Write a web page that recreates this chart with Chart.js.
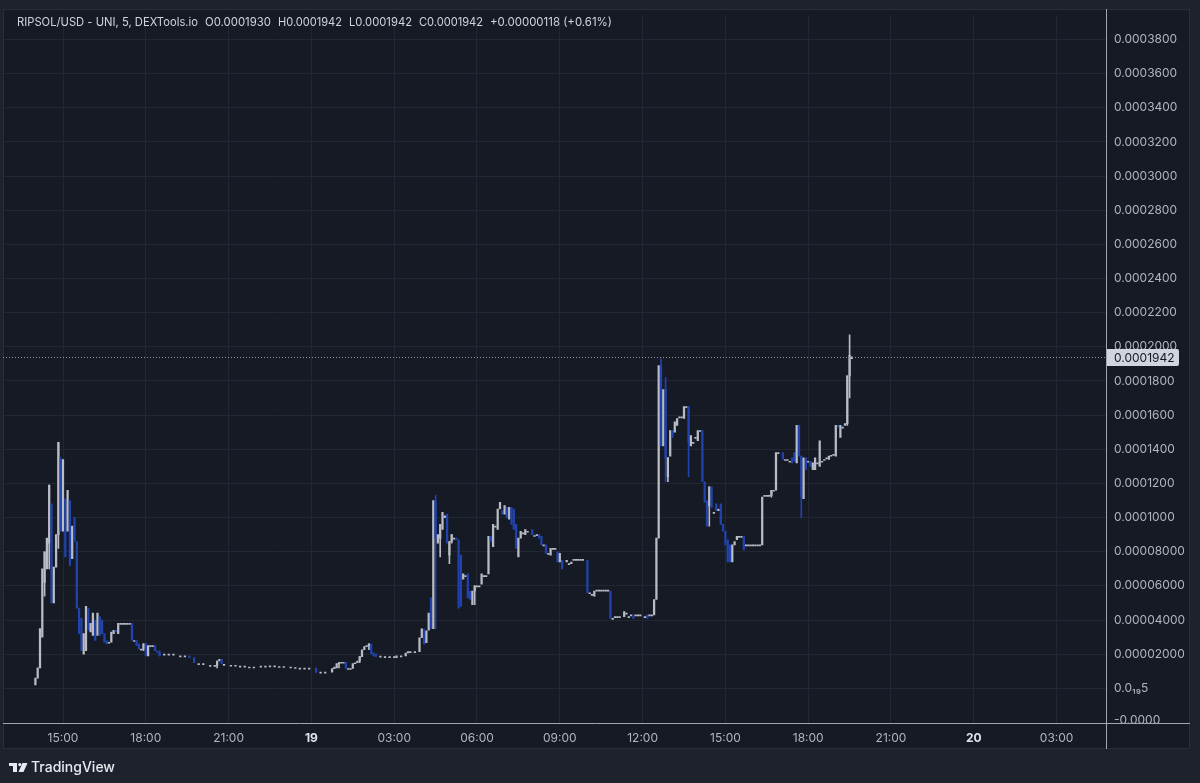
<!DOCTYPE html>
<html>
<head>
<meta charset="utf-8">
<title>RIPSOL/USD - UNI, 5</title>
<script src="https://cdn.jsdelivr.net/npm/chart.js@4.4.1/dist/chart.umd.min.js"></script>
<style>
  html, body { margin: 0; padding: 0; background: #1e222d; }
  #wrap { width: 1200px; height: 783px; }
</style>
</head>
<body>
<div id="wrap"><canvas id="chart" width="1200" height="783"></canvas></div>
<script>
// 5 min candles, slot = number of 5 min steps after 18th 14:00
// prices are in millionths of a USD (194.2 = 0.0001942)
var slots = [
  0, 1, 2, 3, 4, 5, 6, 7, 8, 9,
  10, 11, 12, 13, 14, 15, 16, 17, 18, 19,
  20, 21, 22, 23, 24, 25, 26, 27, 28, 29,
  30, 31, 32, 33, 34, 35, 36, 37, 38, 39,
  40, 41, 42, 43, 44, 45, 46, 47, 48, 49,
  50, 51, 52, 53, 54, 56, 58, 60, 63, 65,
  67, 69, 71, 73, 76, 78, 79, 80, 81, 82,
  85, 87, 89, 91, 93, 95, 98, 100, 102, 104,
  106, 108, 111, 113, 115, 117, 119, 122, 124, 126,
  129, 130, 131, 132, 133, 134, 135, 136, 137, 138,
  139, 140, 141, 142, 143, 144, 145, 146, 147, 148,
  150, 152, 154, 156, 157, 159, 161, 162, 163, 165,
  167, 168, 169, 170, 171, 172, 173, 174, 175, 176,
  177, 178, 179, 180, 181, 182, 183, 184, 185, 186,
  187, 188, 189, 190, 191, 192, 193, 194, 195, 196,
  197, 198, 199, 200, 201, 202, 203, 204, 205, 206,
  207, 208, 209, 210, 211, 212, 213, 214, 216, 217,
  218, 219, 220, 221, 222, 223, 224, 225, 226, 227,
  228, 229, 231, 232, 233, 234, 235, 236, 237, 238,
  240, 241, 242, 243, 244, 245, 246, 247, 248, 249,
  250, 251, 252, 253, 254, 256, 257, 258, 259, 260,
  261, 262, 263, 265, 266, 267, 268, 269, 270, 271,
  272, 273, 274, 275, 276, 277, 278, 279, 280, 281,
  282, 283, 284, 285, 286, 287, 288, 289, 290, 291,
  292, 293, 294, 295, 296, 297, 298, 299, 300, 301,
  302, 303, 304, 305, 306, 307, 308, 309, 310, 311,
  312, 313, 314, 315, 316, 317, 318, 319, 320, 321,
  322, 323, 325, 326, 327, 328, 329, 330, 331, 332,
  333, 334, 335, 336, 337, 338, 339, 340, 341, 342,
  343, 344, 345, 346, 347, 348, 349, 350, 351, 352,
  353, 354, 355
];
var opens = [
  2, 6, 12, 30, 62, 70, 85, 108, 50, 71,
  90, 135, 92, 111, 92, 110, 76, 100, 86, 47,
  41, 20, 22, 47, 33, 31, 40, 31, 42, 40,
  32, 28, 27, 27, 32, 34, 32, 38, 38, 38,
  38, 38, 38, 28, 28, 26, 23, 23, 26, 19,
  25, 25, 25, 22, 21, 20, 20, 20, 19, 19,
  19, 18, 14.5, 14.5, 13.4, 13.4, 13.4, 16, 17, 14,
  13.5, 13.5, 13, 13, 12.5, 12.5, 13, 13, 13.2, 13.2,
  12.8, 12.8, 12.5, 12.2, 11.8, 11.8, 11.8, 11.8, 9.5, 9.5,
  9.5, 11.5, 12, 14.5, 15.3, 15.3, 15.2, 11.6, 11.6, 11.6,
  15, 15, 16, 18.6, 22.6, 24.4, 25, 26, 21, 20,
  18.9, 18.6, 18.6, 18.6, 18, 19, 19, 20.7, 21.5, 21.5,
  21.5, 29.6, 31, 26.7, 34, 53, 35, 110, 85, 88,
  93, 100, 102, 78, 86, 88, 88, 87, 78, 64,
  66, 67, 57, 49, 57, 60, 60, 61, 66, 66,
  67, 89, 83, 95, 93, 105, 104, 102, 106, 99,
  106, 105, 96, 77, 88, 91, 90, 92, 93, 89.5,
  90, 90, 89, 84, 84, 79, 78, 82, 82, 80,
  74, 75, 74, 73, 73, 75.5, 75.5, 75.5, 75.5, 75.5,
  75, 56, 55, 54, 57.5, 57.5, 57.5, 57.5, 57.5, 57.5,
  57, 41, 42, 42, 42, 42, 44, 42, 43, 43,
  43, 43, 43, 42, 43, 43, 43, 43, 52, 88,
  189, 142, 175, 124, 136, 151, 150, 154, 159, 159,
  158, 165, 165, 142, 144, 147, 145, 151, 151, 121,
  110, 107, 118, 103, 108, 104, 108, 96, 92, 87,
  84, 74, 84, 87, 89, 89, 89, 84, 84, 84,
  84, 84, 84, 84, 84, 113, 113, 113, 113, 116,
  116, 138, 138, 134, 134, 133, 135, 138, 132, 154,
  136, 111, 135, 133, 133, 128, 128, 132, 130, 133,
  134, 135, 134, 136.5, 137, 136, 154, 147, 153, 154,
  155, 183, 193.0
];
var closes = [
  6, 12, 35, 70, 80, 88, 119, 50, 71, 90,
  144, 92, 134, 77, 116, 72, 95, 86, 47, 32,
  22, 32, 48, 34, 38, 44, 28, 44, 31, 32,
  27, 26, 27, 33, 34, 33, 38, 38, 38, 38,
  38, 38, 28, 28, 25, 23, 23, 26, 19, 25,
  25, 25, 22, 21, 19, 20, 20, 20, 19, 19,
  18, 15, 14.5, 14.5, 13.4, 13.4, 16, 17, 14.5, 14,
  13.5, 13.5, 13, 13, 12.5, 12.5, 13, 13, 13.2, 13.2,
  12.8, 12.8, 12.5, 12.2, 11.8, 11.8, 11.8, 9.3, 9.5, 9.5,
  11.5, 12.4, 14.5, 15, 15.3, 15.3, 11.6, 11.6, 11.6, 14.5,
  15, 16, 18.6, 22.6, 24.4, 25, 26, 20.3, 19, 18.6,
  18.9, 18.6, 18.6, 18.6, 19, 19, 20.7, 21.5, 21.5, 21.5,
  29.6, 34.8, 26, 33.7, 44, 35, 110, 88, 90, 96,
  103, 101, 85, 86, 90, 88, 87, 47, 48, 67,
  66, 53, 52, 57, 60, 60, 60, 67, 66, 66,
  89, 86, 96, 95, 105, 109, 102, 107, 100, 106,
  96, 93, 82, 88, 92, 91, 93, 92, 90, 89.5,
  90, 88, 84, 84, 79, 79, 82, 82, 82, 74,
  79, 70, 75, 73, 74, 75.5, 75.5, 75.5, 75.5, 75.5,
  56, 56, 55, 57, 57.5, 57.5, 57.5, 57.5, 57.5, 57.5,
  41, 41, 42, 42, 42, 45, 44, 42, 43, 41,
  43, 43, 43, 42, 41, 43, 43, 52, 88, 189,
  142, 175, 135, 135, 151, 147, 156, 158, 159, 159,
  165, 165, 144, 148, 144, 147, 151, 151, 121, 109,
  95, 118, 106, 103, 104, 105, 96, 92, 84, 74,
  74, 84, 86, 89, 89, 89, 81, 84, 84, 84,
  84, 84, 84, 84, 112, 113, 113, 113, 116, 116,
  138, 138, 134, 134, 134, 133, 132, 133, 154, 136,
  112, 135, 128, 133, 130, 132, 135, 132, 145, 133,
  134, 135, 136, 136.5, 137, 154, 153, 154, 153, 155,
  183, 195, 194.2
];
// candles whose wick reaches past the body
var wickSlots = [4, 6, 10, 47, 54, 79, 132, 141, 145, 169, 174, 176, 180, 181, 191, 272, 274, 275, 284, 293, 320, 333, 353, 354];
var wickHighs = [80, 119, 144, 26, 22, 16, 15, 18.6, 26, 34.8, 113, 96, 86, 90, 60, 193, 182, 135, 165, 118, 116, 136, 183, 207];
var wickLows = [54, 70, 82, 22, 19, 12, 12, 15, 22.6, 26, 35, 77, 73, 85, 49, 142, 121, 121, 124, 95, 112, 100, 154, 170];

var xTickHours = [15, 18, 21, 24, 27, 30, 33, 36, 39, 42, 45, 48, 51];
var xTickLabels = ["15:00", "18:00", "21:00", "19", "03:00", "06:00", "09:00", "12:00", "15:00", "18:00", "21:00", "20", "03:00"];
var yTicks = [0, 20, 40, 60, 80, 100, 120, 140, 160, 180, 200, 220, 240, 260, 280, 300, 320, 340, 360, 380];
var lastPrice = 194.2;
var headerParts = ["RIPSOL/USD - UNI, 5, DEXTools.io", "O0.0001930", "H0.0001942", "L0.0001942", "C0.0001942", "+0.00000118 (+0.61%)"];

var upColor = "#b9bcc5";
var downColor = "#2143ad";
var FONT = "Inter, Roboto, 'DejaVu Sans', sans-serif";

function slotHour(s) {
  return 14 + s / 12;
}

//body of each candle, flat candles still show as a small dot
var bodyData = [];
var bodyColors = [];
var colorBySlot = {};
for (var i = 0; i < slots.length; i++) {
  bodyData.push({ x: slotHour(slots[i]), y: [opens[i] / 1e6, closes[i] / 1e6] });
  var col = closes[i] < opens[i] ? downColor : upColor;
  bodyColors.push(col);
  colorBySlot[slots[i]] = col;
}

var wickData = [];
var wickColors = [];
for (var j = 0; j < wickSlots.length; j++) {
  wickData.push({ x: slotHour(wickSlots[j]), y: [wickLows[j] / 1e6, wickHighs[j] / 1e6] });
  wickColors.push(colorBySlot[wickSlots[j]]);
}

function priceLabel(v) {
  var u = Math.round(v * 1e7) / 10;
  if (u < 0) return "-0.0000";
  if (u === 0) return "0.0\u2081\u20895";
  if (u < 100) return v.toFixed(8);
  return v.toFixed(7);
}

var panel = {
  id: "panel",
  beforeDraw: function (chart) {
    var ctx = chart.ctx;
    ctx.save();
    ctx.fillStyle = "#1e222d";
    ctx.fillRect(0, 0, chart.width, chart.height);
    ctx.fillStyle = "#161a25";
    ctx.fillRect(3, 9, 1187, 740);
    ctx.strokeStyle = "#2a2e39";
    ctx.lineWidth = 1;
    ctx.strokeRect(3.5, 9.5, 1186, 739);
    ctx.restore();
  },
  afterDraw: function (chart) {
    var ctx = chart.ctx;
    var area = chart.chartArea;
    var yScale = chart.scales.y;
    ctx.save();

    //last price dotted line
    var py = Math.round(yScale.getPixelForValue(lastPrice / 1e6)) + 0.5;
    ctx.strokeStyle = "#9598a1";
    ctx.lineWidth = 1;
    ctx.setLineDash([1, 2]);
    ctx.beginPath();
    ctx.moveTo(area.left, py);
    ctx.lineTo(area.right, py);
    ctx.stroke();
    ctx.setLineDash([]);

    //frame lines of the axes
    ctx.strokeStyle = "#a3a6af";
    ctx.beginPath();
    ctx.moveTo(3, area.bottom + 0.5);
    ctx.lineTo(1190, area.bottom + 0.5);
    ctx.moveTo(area.right + 0.5, 9);
    ctx.lineTo(area.right + 0.5, 749);
    ctx.stroke();

    //cut-off label under zero
    ctx.save();
    ctx.beginPath();
    ctx.rect(area.right + 1, 705, 84, area.bottom - 705);
    ctx.clip();
    ctx.fillStyle = "#b2b5be";
    ctx.font = "12px " + FONT;
    ctx.textBaseline = "middle";
    ctx.textAlign = "left";
    ctx.fillText(priceLabel(-20e-6), area.right + 8, 720);
    ctx.restore();

    //price tag
    ctx.fillStyle = "#d1d4dc";
    ctx.beginPath();
    ctx.roundRect(area.right + 1, py - 8.5, 72, 17, [0, 2, 2, 0]);
    ctx.fill();
    ctx.fillStyle = "#131722";
    ctx.font = "12px " + FONT;
    ctx.textBaseline = "middle";
    ctx.textAlign = "left";
    ctx.fillText(priceLabel(lastPrice / 1e6), area.right + 8, py + 0.5);

    //legend line on top
    var xs = [17, 205, 278, 349, 419, 490];
    var ws = [181, 66, 64, 63, 64, 122];
    ctx.fillStyle = "#d1d4dc";
    ctx.font = "11.5px " + FONT;
    for (var k = 0; k < headerParts.length; k++) {
      ctx.fillText(headerParts[k], xs[k], 23, ws[k]);
    }

    //tradingview mark
    ctx.fillStyle = "#e8eaef";
    ctx.fillRect(9, 763, 8, 3);
    ctx.fillRect(13, 763, 4, 9);
    ctx.beginPath();
    ctx.arc(19.8, 764.6, 1.6, 0, Math.PI * 2);
    ctx.fill();
    ctx.beginPath();
    ctx.moveTo(22.5, 763);
    ctx.lineTo(27.5, 763);
    ctx.lineTo(23.5, 772);
    ctx.lineTo(18.5, 772);
    ctx.closePath();
    ctx.fill();
    ctx.font = "500 14px " + FONT;
    ctx.fillText("TradingView", 31, 768);
    ctx.restore();
  }
};

var chart = new Chart(document.getElementById("chart").getContext("2d"), {
  type: "bar",
  data: {
    datasets: [{
      label: "body",
      data: bodyData,
      backgroundColor: bodyColors,
      barThickness: 1.6,
      minBarLength: 1,
      grouped: false,
      borderWidth: 0
    }, {
      label: "wick",
      data: wickData,
      backgroundColor: wickColors,
      barThickness: 1,
      grouped: false,
      borderWidth: 0
    }]
  },
  options: {
    responsive: false,
    animation: false,
    devicePixelRatio: 1,
    layout: { padding: { left: 3, top: 9, right: 10, bottom: 34 } },
    plugins: {
      legend: { display: false },
      tooltip: { enabled: false }
    },
    scales: {
      x: {
        type: "linear",
        offset: false,
        min: 12.826,
        max: 52.79,
        afterBuildTicks: function (scale) {
          scale.ticks = xTickHours.map(function (h) { return { value: h }; });
        },
        afterFit: function (scale) { scale.height = 26; },
        grid: { color: "#232733", offset: false, drawTicks: false },
        border: { display: false },
        ticks: {
          autoSkip: false,
          maxRotation: 0,
          padding: 8,
          callback: function (v) { return xTickLabels[xTickHours.indexOf(v)]; },
          color: function (c) { return c.tick && c.tick.value % 24 === 0 ? "#e0e3eb" : "#b2b5be"; },
          font: function (c) {
            return c.tick && c.tick.value % 24 === 0 ? { family: FONT, size: 12, weight: "bold" } : { family: FONT, size: 12 };
          }
        }
      },
      y: {
        type: "linear",
        position: "right",
        min: -20.3e-6,
        max: 394.2e-6,
        afterBuildTicks: function (scale) {
          scale.ticks = yTicks.map(function (u) { return { value: u / 1e6 }; });
        },
        afterFit: function (scale) { scale.width = 84; },
        grid: { color: "#232733", drawTicks: false },
        border: { display: false },
        ticks: {
          padding: 8,
          color: "#b2b5be",
          font: { family: FONT, size: 12 },
          callback: function (v) { return priceLabel(v); }
        }
      }
    }
  },
  plugins: [panel]
});
</script>
</body>
</html>
